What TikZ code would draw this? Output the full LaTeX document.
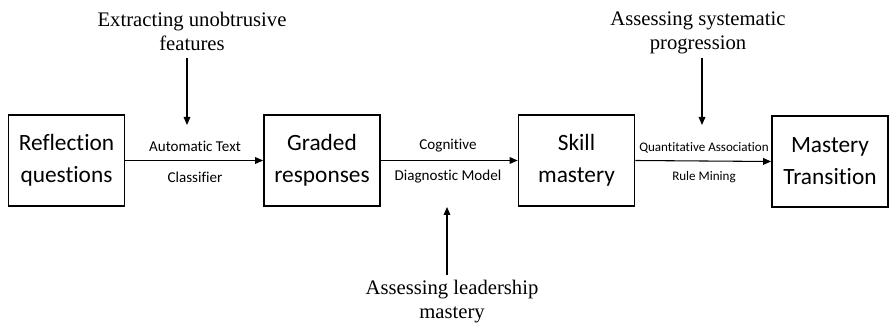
\documentclass[tikz,border=0pt]{standalone}
\usepackage{fontspec}
\setmainfont{Liberation Serif}
\newfontfamily\boxfont[Ligatures=NoCommon]{Carlito}
\usetikzlibrary{arrows.meta}

\tikzset{
  stage/.style={draw, line width=1.3pt, minimum width=87pt, minimum height=68pt,
    inner sep=0pt, align=center, font=\boxfont\fontsize{17.5}{24}\selectfont},
  method/.style={inner sep=0pt, font=\boxfont\fontsize{11.3}{13}\selectfont},
  aspect/.style={inner sep=0pt, align=center, font=\fontsize{15.5}{18}\selectfont},
  flow/.style={-{Triangle[length=6pt,width=5pt]}, line width=0.8pt},
}

\begin{document}
\begin{tikzpicture}[x=0.75pt,y=-0.75pt]
\useasboundingbox (0,0) rectangle (889,327);

% the four stages
\node[stage] (refl)    at (66.5,160.5) {Reflection\\questions};
\node[stage] (graded)  at (322,160.5)  {Graded\\responses};
\node[stage] (skill)   at (576.5,160.5){Skill\\mastery};
\node[stage] (trans)   at (830,161.5)  {Mastery\\Transition};

% methods between stages
\draw[flow] (refl.east)   -- (graded.west);
\draw[flow] (graded.east) -- (skill.west);
\draw[flow] (skill.east)  -- (trans.west);

\node[method] (atc1) at (195,146) {Automatic Text};
\node[method] (atc2) at (195,177) {Classifier};
\node[method] (cdm1) at (448,146) {Cognitive};
\node[method] (cdm2) at (448,177) {Diagnostic Model};
\node[method, font=\boxfont\fontsize{9.8}{11}\selectfont] (qar1) at (704,148) {Quantitative Association};
\node[method, font=\boxfont\fontsize{9.8}{11}\selectfont] (qar2) at (704,177) {Rule Mining};

% what each step is used for
\node[aspect] (feat) at (192,31)  {Extracting unobtrusive\\features};
\node[aspect] (prog) at (698,33)  {Assessing systematic\\progression};
\node[aspect] (lead) at (452,302) {Assessing leadership\\mastery};

\coordinate (featTop) at (187,58);
\coordinate (featTip) at (187,125);
\coordinate (progTop) at (702,58);
\coordinate (progTip) at (702,125);
\coordinate (leadBot) at (447,275);
\coordinate (leadTip) at (447,207);

\draw[flow] (featTop) -- (featTip);
\draw[flow] (progTop) -- (progTip);
\draw[flow] (leadBot) -- (leadTip);

\end{tikzpicture}
\end{document}
